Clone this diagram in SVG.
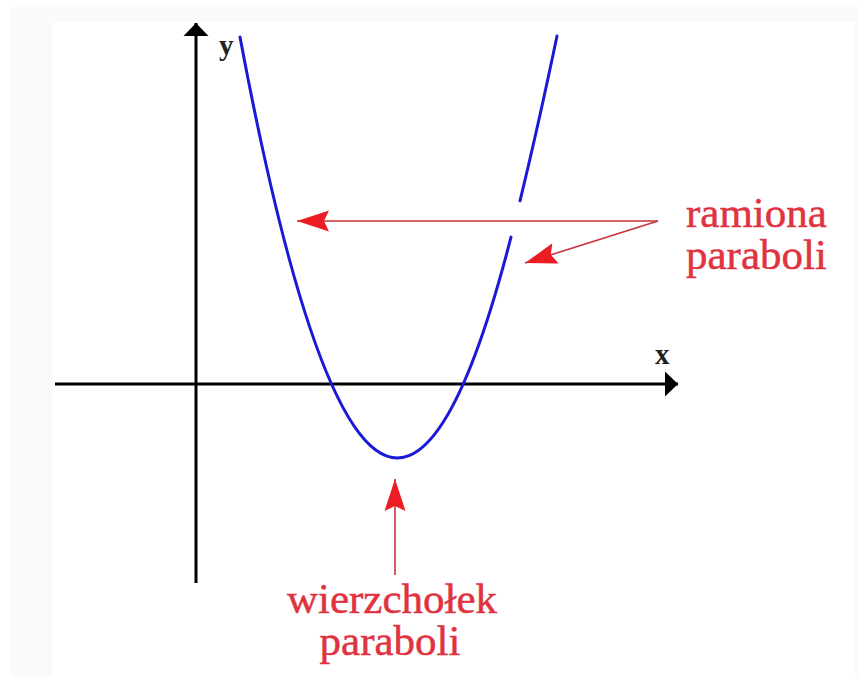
<svg xmlns="http://www.w3.org/2000/svg" width="868" height="676" viewBox="0 0 868 676">
<style>
.axis{stroke:#000;stroke-width:3;fill:none}
.curve{stroke:#1a1ad6;stroke-width:3;fill:none;stroke-linecap:round}
.ptr{stroke:#c8323a;stroke-width:1.6;fill:none}
.lbl{font-family:"Liberation Serif","Times New Roman",serif;font-size:43px;fill:#e0333f;stroke:#e0333f;stroke-width:0.5}
.ax{font-family:"Liberation Serif","Times New Roman",serif;font-weight:bold;font-size:29px;fill:#222}
</style>
<defs>
<marker id="red" markerUnits="userSpaceOnUse" viewBox="0 -12 34 24" markerWidth="34" markerHeight="24" refX="32" refY="0" orient="auto">
<path d="M0,-10.5 L32,0 L0,10.5 L5,0 z" fill="#ec1c24"/>
</marker>
<marker id="blk" markerUnits="userSpaceOnUse" viewBox="0 -13 14 26" markerWidth="14" markerHeight="26" refX="13" refY="0" orient="auto">
<path d="M0,-12.5 L13,0 L0,12.5 z" fill="#000"/>
</marker>
</defs>
<rect width="868" height="676" fill="#fff"/>
<rect x="10" y="7" width="848" height="669" fill="#fafafa"/>
<rect x="52" y="22" width="803" height="654" fill="#fff"/>
<g id="axes">
<line class="axis" x1="55" y1="384" x2="678" y2="384" marker-end="url(#blk)"/>
<line class="axis" x1="196" y1="583" x2="196" y2="23" marker-end="url(#blk)"/>
<text class="ax" x="219" y="55">y</text>
<text class="ax" x="655" y="364">x</text>
</g>
<g id="parabola">
<path class="curve" d="M240,37 Q376,763 511,237.1"/>
<path class="curve" d="M520,200.8 Q538,127 557,36"/>
</g>
<g id="label-ramiona">
<text class="lbl"><tspan x="686" y="227">ramiona</tspan><tspan x="686" y="269">paraboli</tspan></text>
</g>
<g id="label-wierzcholek">
<text class="lbl" text-anchor="middle"><tspan x="392" y="613">wierzchołek</tspan><tspan x="390" y="655">paraboli</tspan></text>
</g>
<g id="connectors">
<line class="ptr" x1="658" y1="221" x2="297" y2="221" marker-end="url(#red)"/>
<line class="ptr" x1="658" y1="221" x2="525" y2="263" marker-end="url(#red)"/>
<line class="ptr" x1="395" y1="575" x2="395" y2="479" marker-end="url(#red)"/>
</g>
</svg>
